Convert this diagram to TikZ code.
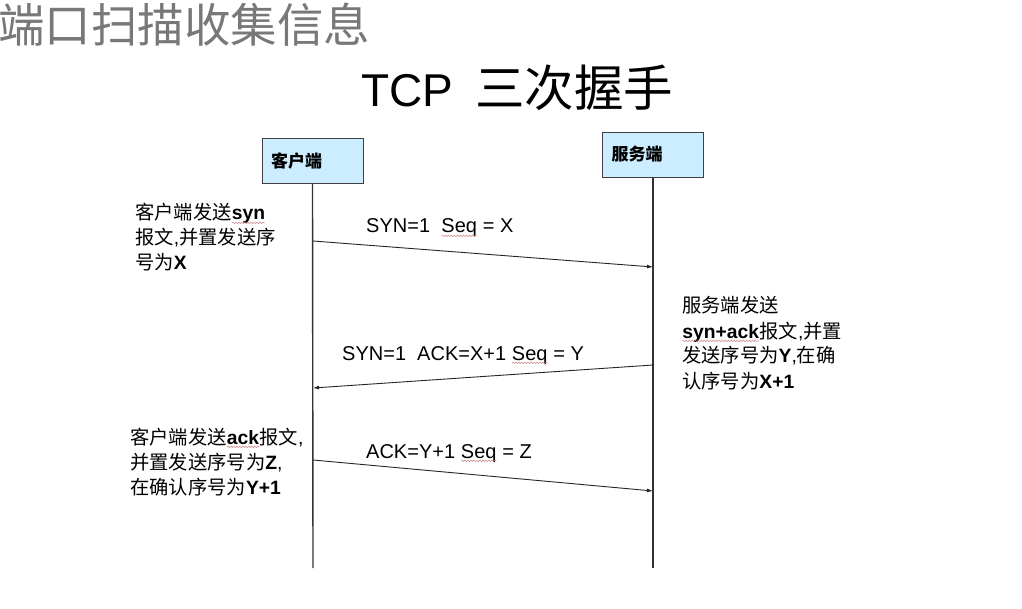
\documentclass[tikz,border=0pt]{standalone}
\usepackage{fontspec}
\setmainfont{Liberation Sans}
\newfontfamily\cjkf{Noto Sans CJK SC}
\usetikzlibrary{arrows.meta,decorations.pathmorphing}
\definecolor{boxfill}{RGB}{204,236,255}
\definecolor{titlegray}{RGB}{120,120,120}
\definecolor{wavecol}{RGB}{205,130,130}
\newcommand\cj[1]{{\cjkf #1}}
\newcommand\wv[1]{\tikz[baseline=(wvn.base)]{\node[inner sep=0pt,outer sep=0pt](wvn){#1};\draw[wavecol,line width=0.5pt,decorate,decoration={snake,amplitude=0.8pt,segment length=3pt}]([yshift=-2.8pt]wvn.base west)--([yshift=-2.8pt]wvn.base east);}}
\begin{document}
\begin{tikzpicture}[x=1pt,y=-1pt,
  actor/.style={draw=black!75, fill=boxfill, line width=0.8pt, minimum width=101pt, minimum height=45pt, inner sep=0pt, font=\fontsize{17}{20}\selectfont\bfseries\cjkf, text width=83pt, align=left},
  life/.style={draw=black!80, line width=1.4pt},
  msg/.style={draw=black!85, line width=0.9pt, -{Latex[length=6pt,width=4pt]}},
  msglabel/.style={anchor=base west, inner sep=0pt, font=\fontsize{20}{24}\selectfont},
  note/.style={anchor=base west, inner sep=0pt, align=left, font=\fontsize{19.3}{25}\selectfont},
]
\useasboundingbox[fill=white] (0,0) rectangle (1022,609);
\node[anchor=base west, inner sep=0pt, text=titlegray, font=\fontsize{46.5}{50}\selectfont\cjkf] (pagetitle) at (-2,43) {端口扫描收集信息};
\node[anchor=base west, inner sep=0pt, font=\fontsize{46}{50}\selectfont] (title) at (361,107) {TCP\hspace{22pt}{\fontsize{49.5}{50}\selectfont\cjkf 三次握手}};

\node[actor] (client) at (312.5,160.5) {客户端};
\node[actor] (server) at (653,154.5) {\raisebox{-3pt}{服务端}};
\coordinate (clientend) at (313,568);
\coordinate (serverend) at (653,568);
\draw[life] (client.south) -- (clientend);
\draw[life] (server.south) -- (serverend);

\coordinate (c1) at (313,241);
\coordinate (s1) at (653,267);
\coordinate (s2) at (653,365);
\coordinate (c2) at (313,388);
\coordinate (c3) at (313,460);
\coordinate (s3) at (653,491);
\draw[msg] (c1) -- (s1);
\draw[msg] (s2) -- (c2);
\draw[msg] (c3) -- (s3);

\node[msglabel] (lab1) at (366,233) {SYN=1\ \ \wv{Seq} = X};
\node[msglabel] (lab2) at (342,360) {SYN=1\ \ ACK=X+1 \wv{Seq} = Y};
\node[msglabel] (lab3) at (366,458) {ACK=Y+1 \wv{Seq} = Z};

\node[note] (note1) at (135,270) {\cj{客户端发送}\textbf{\wv{syn}}\\\cj{报文},\cj{并置发送序}\\\cj{号为}\textbf{X}};
\node[note] (note2) at (682,388) {\cj{服务端发送}\\\textbf{\wv{syn+ack}}\cj{报文},\cj{并置}\\\cj{发送序号为}\textbf{Y},\cj{在确}\\\cj{认序号为}\textbf{X+1}};
\node[note] (note3) at (130,494) {\cj{客户端发送}\textbf{\wv{ack}}\cj{报文},\\\cj{并置发送序号为}\textbf{Z},\\\cj{在确认序号为}\textbf{Y+1}};
\end{tikzpicture}
\end{document}
